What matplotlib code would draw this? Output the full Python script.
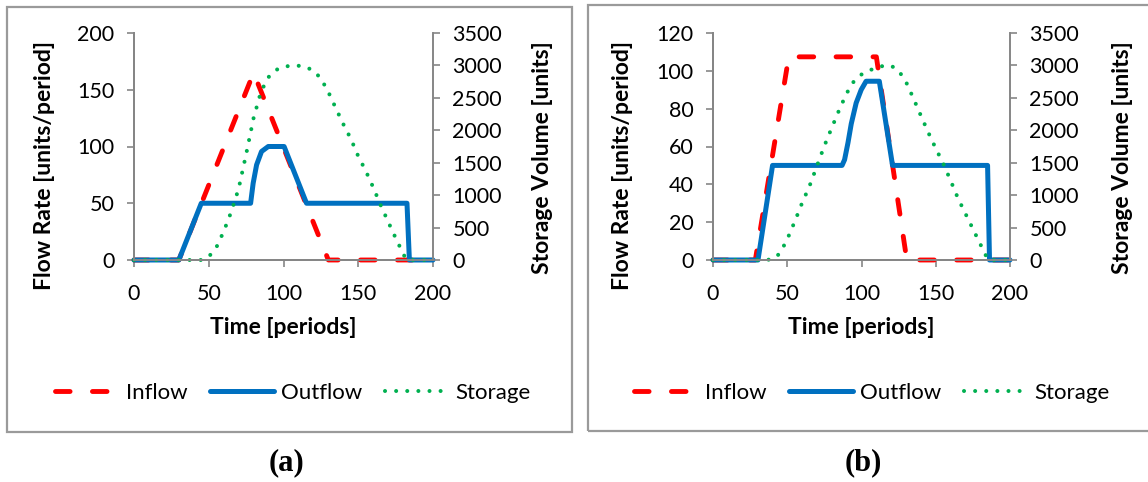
import numpy as np
import matplotlib
matplotlib.use("Agg")
import matplotlib.pyplot as plt
from matplotlib.patches import Rectangle

plt.rcParams['font.family'] = ['Lato', 'DejaVu Sans']

# ---- panel (a) data ----
inflow_a_t = [0, 30, 80, 130, 200]
inflow_a = [0, 0, 165, 0, 0]

outflow_a_t = [0, 30, 45, 78, 79.7, 82, 85.3, 89.8, 100.4, 115.4, 182.6, 184.2, 200]
outflow_a = [0, 0, 50, 50, 67.6, 83.8, 95.6, 100, 100, 50, 50, 0, 0]

storage_a_t = [0, 45, 50, 55, 60, 65, 70, 75, 80, 85, 90, 95, 100, 105, 110,
               115, 120, 125, 130, 135, 140, 145, 150, 155, 160, 165, 170,
               175, 180, 182, 185, 200]
storage_a = [0, 0, 50, 190, 440, 740, 1100, 1630, 2190, 2600, 2820, 2930,
             2980, 2995, 2995, 2975, 2920, 2800, 2590, 2340, 2095, 1870, 1600,
             1375, 1120, 845, 590, 340, 100, 10, 0, 0]

# ---- panel (b) data ----
inflow_b_t = [0, 28.5, 51, 110, 130.5, 200]
inflow_b = [0, 0, 107.4, 107.4, 0, 0]

outflow_b_t = [0, 30.3, 40.1, 86.9, 88.6, 90.9, 93.1, 96.4, 99.8, 103.1, 112,
               120.9, 184.9, 186.2, 200]
outflow_b = [0, 0, 50, 50, 53, 62, 72, 83, 90, 94.5, 94.5, 50, 50, 0, 0]

storage_b_t = [0, 35, 40, 45, 50, 55, 60, 65, 70, 75, 80, 85, 90, 95, 100,
               105, 110, 115, 120, 125, 130, 135, 140, 145, 150, 155, 160,
               165, 170, 175, 180, 185, 186, 200]
storage_b = [0, 0, 10, 100, 320, 590, 880, 1140, 1450, 1760, 2040, 2315, 2570,
             2760, 2860, 2920, 2965, 2995, 2995, 2920, 2745, 2490, 2225, 1965,
             1720, 1490, 1225, 950, 715, 480, 245, 10, 0, 0]

x_ticks = [0, 50, 100, 150, 200]
storage_ticks = [0, 500, 1000, 1500, 2000, 2500, 3000, 3500]

RED = '#FF0000'
BLUE = '#0070C0'
GREEN = '#00B050'
AXC = '#868686'

W, H = 1148, 482
fig = plt.figure(figsize=(W / 100, H / 100), dpi=100)


def px_box(x0, y0, x1, y1):
    # pixel box (top-left origin) -> figure fraction rect
    return [x0 / W, 1 - y1 / H, (x1 - x0) / W, (y1 - y0) / H]


def panel(rect, t_in, v_in, t_out, v_out, t_st, v_st, ymax, ystep,
          ylab_xy, y2lab_xy, leg_xy):
    ax = fig.add_axes(rect)
    ax2 = ax.twinx()

    l1, = ax.plot(t_in, v_in, color=RED, lw=3.5, dashes=(3.0, 4.6),
                  dash_capstyle='round', clip_on=False, zorder=3, label='Inflow')
    l2, = ax.plot(t_out, v_out, color=BLUE, lw=3.6, solid_capstyle='round',
                  solid_joinstyle='round', clip_on=False, zorder=4, label='Outflow')
    l3, = ax2.plot(t_st, v_st, color=GREEN, lw=2.9, dashes=(0.01, 2.75),
                   dash_capstyle='round', clip_on=False, label='Storage')

    ax.set_xlim(0, 200)
    ax.set_ylim(0, ymax)
    ax2.set_ylim(0, 3500)
    ax.set_xticks(x_ticks)
    ax.set_yticks(np.arange(0, ymax + 1, ystep))
    ax2.set_yticks(storage_ticks)

    for a in (ax, ax2):
        a.spines['top'].set_visible(False)
        for s in ('left', 'right', 'bottom'):
            a.spines[s].set_color(AXC)
            a.spines[s].set_linewidth(1.4)
        a.tick_params(colors=AXC, labelcolor='black', labelsize=15.5,
                      length=5, width=1.2, direction='out')
        a.set_facecolor('none')
    ax.tick_params(axis='y', pad=9)
    ax.tick_params(axis='x', pad=12)
    ax2.tick_params(axis='y', pad=9)
    ax.spines['right'].set_visible(False)

    ax.set_xlabel('Time [periods]', fontsize=16.5, fontweight='bold', labelpad=10)
    ax.set_ylabel('Flow Rate [units/period]', fontsize=16.5, fontweight='bold')
    ax2.set_ylabel('Storage Volume [units]', fontsize=16.5, fontweight='bold',
                   rotation=90)
    ax.yaxis.set_label_coords(*ylab_xy)
    ax2.yaxis.set_label_coords(*y2lab_xy)

    fig.legend(handles=[l1, l2, l3], loc='center',
               bbox_to_anchor=(leg_xy[0] / W, 1 - leg_xy[1] / H),
               ncol=3, frameon=False, fontsize=16, handlelength=2.9,
               handletextpad=0.3, columnspacing=1.0)
    return ax


panel(px_box(134, 33, 433, 260), inflow_a_t, inflow_a, outflow_a_t, outflow_a,
      storage_a_t, storage_a, 200, 50, (-0.265, 0.418), (1.33, 0.449), (293, 393))
panel(px_box(713, 33, 1010, 260), inflow_b_t, inflow_b, outflow_b_t, outflow_b,
      storage_b_t, storage_b, 120, 20, (-0.27, 0.418), (1.345, 0.449), (872, 393))

# gray frames around each panel
for x0, y0, x1, y1 in [(7, 7, 572, 432), (588, 5, 1160, 431)]:
    r = Rectangle((x0 / W, 1 - y1 / H), (x1 - x0) / W, (y1 - y0) / H,
                  transform=fig.transFigure, fill=False, edgecolor='#9A9A9A',
                  lw=1.6)
    fig.add_artist(r)

for cx, lab in [(286, 'a'), (863, 'b')]:
    fig.text(cx / W, 1 - 463 / H, '(' + lab + ')', ha='center', va='center',
             fontsize=22, family='Liberation Serif', fontweight='bold')

fig.savefig('out.png', dpi=100)
